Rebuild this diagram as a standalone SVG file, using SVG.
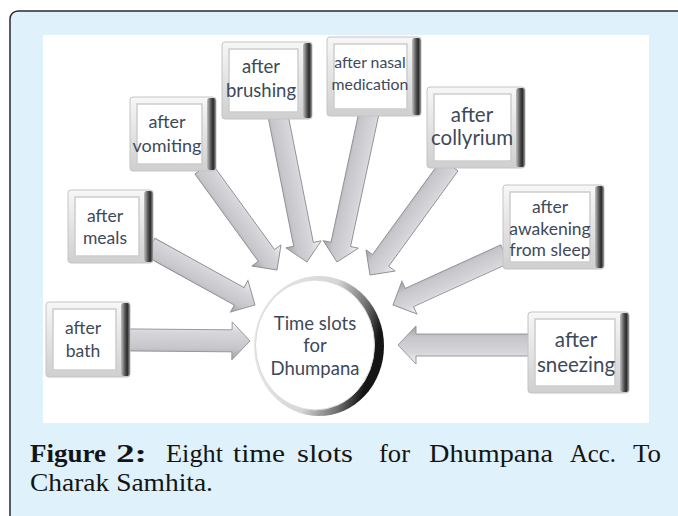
<svg xmlns="http://www.w3.org/2000/svg" width="678" height="516" viewBox="0 0 678 516">
  <defs>
    <linearGradient id="frame" x1="0" y1="0" x2="0" y2="1">
      <stop offset="0" stop-color="#f7f7f7"/>
      <stop offset="1" stop-color="#cfcfcf"/>
    </linearGradient>
    <linearGradient id="edge" x1="0" y1="0" x2="1" y2="0">
      <stop offset="0" stop-color="#c0c0c0"/>
      <stop offset="0.45" stop-color="#555555"/>
      <stop offset="0.7" stop-color="#2a2a2a"/>
      <stop offset="1" stop-color="#9a9a9a"/>
    </linearGradient>
    <linearGradient id="shaft" x1="0" y1="0" x2="0" y2="1">
      <stop offset="0" stop-color="#f4f4f6"/>
      <stop offset="0.3" stop-color="#d6d6da"/>
      <stop offset="0.7" stop-color="#c6c6cb"/>
      <stop offset="1" stop-color="#a0a0a6"/>
    </linearGradient>
    <linearGradient id="ring" x1="0" y1="0" x2="1" y2="0.3">
      <stop offset="0" stop-color="#ececec"/>
      <stop offset="0.6" stop-color="#d6d6d6"/>
      <stop offset="0.85" stop-color="#707070"/>
      <stop offset="1" stop-color="#151515"/>
    </linearGradient>
    <style>
      .frame { fill: url(#frame); stroke: #c4c4c4; stroke-width: 1; }
      .edge { fill: url(#edge); }
      .face { fill: #ffffff; stroke: #cdcdcd; stroke-width: 1.5; }
      .lbl { font-family: Lato, "Liberation Sans", sans-serif; fill: #3e4959; text-anchor: middle; }
      .arrow { fill: url(#shaft); stroke: #8e8e94; stroke-width: 0.9; stroke-linejoin: miter; }
      .cap { font-family: "Liberation Serif", serif; font-size: 25px; fill: #141414; }
      .capb { font-weight: bold; }
    </style>
  </defs>

  <!-- caption panel -->
  <rect x="10" y="11" width="700" height="530" rx="8" fill="#dff1fb" stroke="#2a2a2a" stroke-width="1.5"/>
  <!-- figure area -->
  <rect x="43" y="35" width="606" height="388" fill="#ffffff"/>

  <!-- block arrows pointing to the centre -->
  <g id="connectors">
    <polygon class="arrow" points="-122,-11 -18,-11 -18,-19 0,0 -18,19 -18,11 -122,11" transform="translate(250,341) rotate(0.5)"/>
    <polygon class="arrow" points="-120,-10 -18,-10 -18,-18 0,0 -18,18 -18,10 -120,10" transform="translate(255,305) rotate(28.9)"/>
    <polygon class="arrow" points="-126,-10 -18,-10 -18,-18 0,0 -18,18 -18,10 -126,10" transform="translate(277,270) rotate(54)"/>
    <polygon class="arrow" points="-149,-10 -18,-10 -18,-18 0,0 -18,18 -18,10 -149,10" transform="translate(307,262) rotate(78.8)"/>
    <polygon class="arrow" points="-152,-10 -18,-10 -18,-18 0,0 -18,18 -18,10 -152,10" transform="translate(337,262) rotate(102.1)"/>
    <polygon class="arrow" points="-136,-10 -18,-10 -18,-18 0,0 -18,18 -18,10 -136,10" transform="translate(370,275) rotate(126)"/>
    <polygon class="arrow" points="-123,-10 -18,-10 -18,-18 0,0 -18,18 -18,10 -123,10" transform="translate(393,305) rotate(155.5)"/>
    <polygon class="arrow" points="-132,-11 -18,-11 -18,-19 0,0 -18,19 -18,11 -132,11" transform="translate(398,345) rotate(180)"/>
  </g>

  <!-- central node -->
  <g id="centre">
    <ellipse cx="319" cy="346" rx="65" ry="70" fill="url(#ring)"/>
    <ellipse cx="315" cy="345" rx="59.5" ry="65" fill="#ffffff" stroke="#d8d8d8" stroke-width="1"/>
    <text class="lbl" font-size="18.5" x="315" y="330">Time slots</text>
    <text class="lbl" font-size="18.5" x="315" y="352">for</text>
    <text class="lbl" font-size="18.5" x="315" y="375">Dhumpana</text>
  </g>

  <g id="bath">
    <rect class="frame" x="46" y="302" width="84" height="75" rx="3"/>
    <rect class="edge" x="121" y="303" width="9" height="73" rx="3"/>
    <rect class="face" x="53" y="309" width="63" height="61"/>
    <text class="lbl" font-size="17.5" x="83" y="334">after</text>
    <text class="lbl" font-size="17.5" x="83" y="357">bath</text>
  </g>

  <g id="meals">
    <rect class="frame" x="68" y="190" width="85" height="73" rx="3"/>
    <rect class="edge" x="144" y="191" width="9" height="71" rx="3"/>
    <rect class="face" x="75" y="197" width="64" height="59"/>
    <text class="lbl" font-size="17.5" x="105" y="222">after</text>
    <text class="lbl" font-size="17.5" x="105" y="244">meals</text>
  </g>

  <g id="vomiting">
    <rect class="frame" x="130" y="97" width="86" height="74" rx="3"/>
    <rect class="edge" x="207" y="98" width="9" height="72" rx="3"/>
    <rect class="face" x="137" y="104" width="65" height="60"/>
    <text class="lbl" font-size="18" x="167" y="128">after</text>
    <text class="lbl" font-size="18" x="167" y="152">vomiting</text>
  </g>

  <g id="brushing">
    <rect class="frame" x="222" y="42" width="90" height="77" rx="3"/>
    <rect class="edge" x="303" y="43" width="9" height="75" rx="3"/>
    <rect class="face" x="229" y="49" width="69" height="63"/>
    <text class="lbl" font-size="18.5" x="261" y="73">after</text>
    <text class="lbl" font-size="18.5" x="261" y="97">brushing</text>
  </g>

  <g id="nasal">
    <rect class="frame" x="327" y="37" width="94" height="79" rx="3"/>
    <rect class="edge" x="412" y="38" width="9" height="77" rx="3"/>
    <rect class="face" x="334" y="44" width="73" height="65"/>
    <text class="lbl" font-size="15.8" x="370" y="68">after nasal</text>
    <text class="lbl" font-size="15.8" x="370" y="90">medication</text>
  </g>

  <g id="collyrium">
    <rect class="frame" x="427" y="87" width="98" height="81" rx="3"/>
    <rect class="edge" x="516" y="88" width="9" height="79" rx="3"/>
    <rect class="face" x="434" y="94" width="77" height="67"/>
    <text class="lbl" font-size="20.5" x="472" y="122">after</text>
    <text class="lbl" font-size="20.5" x="472" y="145">collyrium</text>
  </g>

  <g id="awakening">
    <rect class="frame" x="503" y="185" width="101" height="84" rx="3"/>
    <rect class="edge" x="595" y="186" width="9" height="82" rx="3"/>
    <rect class="face" x="510" y="192" width="80" height="70"/>
    <text class="lbl" font-size="17.5" x="550" y="213">after</text>
    <text class="lbl" font-size="17.5" x="550" y="235">awakening</text>
    <text class="lbl" font-size="17.5" x="550" y="256">from sleep</text>
  </g>

  <g id="sneezing">
    <rect class="frame" x="528" y="312" width="101" height="81" rx="3"/>
    <rect class="edge" x="620" y="313" width="9" height="79" rx="3"/>
    <rect class="face" x="535" y="319" width="80" height="67"/>
    <text class="lbl" font-size="20.5" x="576" y="347">after</text>
    <text class="lbl" font-size="20.5" x="576" y="372">sneezing</text>
  </g>

  <!-- caption, justified across the column -->
  <g id="caption">
    <text class="cap capb" x="30" y="462" textLength="76" lengthAdjust="spacingAndGlyphs">Figure</text>
    <text class="cap capb" x="116" y="462" textLength="31" lengthAdjust="spacingAndGlyphs">2:</text>
    <text class="cap" x="166" y="462" textLength="57" lengthAdjust="spacingAndGlyphs">Eight</text>
    <text class="cap" x="233" y="462" textLength="52" lengthAdjust="spacingAndGlyphs">time</text>
    <text class="cap" x="297" y="462" textLength="56" lengthAdjust="spacingAndGlyphs">slots</text>
    <text class="cap" x="379" y="462" textLength="31" lengthAdjust="spacingAndGlyphs">for</text>
    <text class="cap" x="429" y="462" textLength="124" lengthAdjust="spacingAndGlyphs">Dhumpana</text>
    <text class="cap" x="570" y="462" textLength="46" lengthAdjust="spacingAndGlyphs">Acc.</text>
    <text class="cap" x="633" y="462" textLength="28" lengthAdjust="spacingAndGlyphs">To</text>
    <text class="cap" x="30" y="491" textLength="183" lengthAdjust="spacingAndGlyphs">Charak Samhita.</text>
  </g>
</svg>
